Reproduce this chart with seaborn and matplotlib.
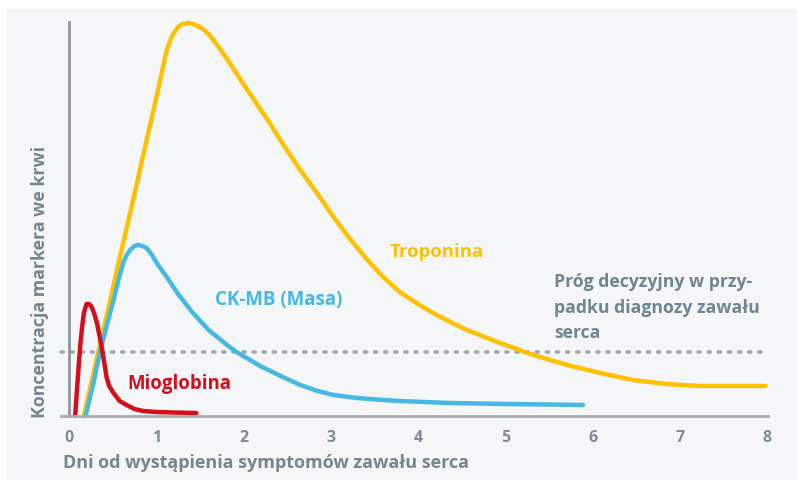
import matplotlib
matplotlib.use("Agg")
import matplotlib.pyplot as plt
import seaborn as sns
import pandas as pd
from matplotlib.patches import Rectangle

# Data (x: days, y: concentration in arbitrary units)
trop_x = [0.17, 0.33, 0.45, 0.56, 0.70, 0.83, 0.95, 1.02, 1.08, 1.12, 1.18, 1.25, 1.30, 1.36,
          1.42, 1.48, 1.55, 1.62, 1.73, 1.85, 1.96, 2.19, 2.27, 2.45, 2.65, 2.85, 3.03, 3.22,
          3.41, 3.60, 3.79, 3.98, 4.17, 4.37, 4.56, 4.94, 5.32, 5.71, 6.09, 6.46, 6.85, 7.23,
          7.61, 7.98]
trop_y = [0, 62, 107, 150, 203, 253, 299, 326, 350, 366, 380, 389, 392, 393,
          392, 390, 386, 380, 367, 352, 337, 307, 297, 272, 246, 222, 199, 177,
          157, 139, 124, 113, 103, 94, 86, 73, 61, 51, 43, 36, 32, 30,
          30, 30]

ck_x = [0.19, 0.28, 0.36, 0.44, 0.51, 0.57, 0.62, 0.66, 0.70, 0.75, 0.79, 0.84, 0.89, 0.95,
        1.02, 1.12, 1.25, 1.42, 1.60, 1.81, 1.92, 2.19, 2.45, 2.65, 2.85, 3.03, 3.30, 3.60,
        3.79, 4.37, 5.00, 5.50, 5.89]
ck_y = [0, 33, 66, 93, 116, 137, 153, 161, 166, 170, 171, 170, 168, 161,
        151, 139, 122, 103, 86, 71, 64, 50, 39, 31, 25, 21, 18, 16,
        15, 13, 12, 11.5, 11]

mio_x = [0.07, 0.09, 0.11, 0.13, 0.15, 0.17, 0.20, 0.23, 0.26, 0.29, 0.32, 0.35, 0.38, 0.41,
         0.43, 0.46, 0.51, 0.58, 0.66, 0.75, 0.85, 1.00, 1.20, 1.46]
mio_y = [0, 25, 49, 72, 89, 103, 112, 112, 109, 102, 93, 80, 66, 50,
         39, 30, 23, 15, 11, 7, 5, 4, 3.5, 3]

threshold = 64
x_ticks = [0, 1, 2, 3, 4, 5, 6, 7, 8]

labels = {
    "trop": "Troponina",
    "ck": "CK-MB (Masa)",
    "mio": "Mioglobina",
    "thr": "Próg decyzyjny w przy-\npadku diagnozy zawału\nserca",
    "xlabel": "Dni od wystąpienia symptomów zawału serca",
    "ylabel": "Koncentracja markera we krwi",
}

sns.set_theme(style="white")
plt.rcParams["font.family"] = ["Open Sans", "DejaVu Sans"]

C_TROP = "#ffc000"
C_CK = "#47b8e4"
C_MIO = "#d20f1b"
C_GREY = "#6f8591"
C_AXIS = "#8e979f"

W, H = 797, 480
fig = plt.figure(figsize=(W / 100, H / 100), dpi=100, facecolor="white")
fig.patches.append(Rectangle((6 / W, 0), 1 - 6 / W, 1 - 9 / H, transform=fig.transFigure,
                             facecolor="#f4f6f8", edgecolor="none", zorder=-10))

ax = fig.add_axes([61 / W, 64 / H, (768 - 61) / W, 394 / H])
ax.set_facecolor("none")

df_t = pd.DataFrame({"x": trop_x, "y": trop_y})
df_c = pd.DataFrame({"x": ck_x, "y": ck_y})
df_m = pd.DataFrame({"x": mio_x, "y": mio_y})

ax.plot([-0.092, 8.0], [threshold, threshold], linestyle=(0, (0.6, 2.2)), color="#a3a8ad",
        lw=2.6, dash_capstyle="round", zorder=1)
for df, c, z in [(df_t, C_TROP, 3), (df_c, C_CK, 4), (df_m, C_MIO, 5)]:
    sns.lineplot(data=df, x="x", y="y", ax=ax, color=c, lw=3.2, estimator=None, sort=False,
                 zorder=z)
for ln in ax.get_lines():
    ln.set_clip_on(False)
    ln.set_solid_joinstyle("round")

ax.set_xlim(-0.092, 8.01)
ax.set_ylim(0, 394)
ax.set_xticks(x_ticks)
ax.set_xticklabels([str(t) for t in x_ticks])
ax.set_yticks([])
for s in ["top", "right"]:
    ax.spines[s].set_visible(False)
ax.spines["left"].set_position(("data", 0))
ax.spines["left"].set_color(C_AXIS)
ax.spines["left"].set_linewidth(2)
ax.spines["bottom"].set_color("#a7adb3")
ax.spines["bottom"].set_linewidth(2)
ax.spines["bottom"].set_zorder(6)
ax.tick_params(axis="x", length=0, pad=10, labelsize=11.5, labelcolor="#7d8d97")
for t in ax.get_xticklabels():
    t.set_fontweight("bold")

ax.set_xlabel("")
ax.set_ylabel("")
fig.text(63 / W, 1 - 463 / H, labels["xlabel"], ha="left", va="center", fontsize=13,
         fontweight="bold", color="#75868f")
fig.text(40 / W, 1 - 282 / H, labels["ylabel"], ha="center", va="center", rotation=90,
         fontsize=12.8, fontweight="bold", color="#75868f")

ax.text(4.21, 164, labels["trop"], color=C_TROP, fontsize=13.3, fontweight="bold", ha="center", va="center")
ax.text(2.40, 116, labels["ck"], color=C_CK, fontsize=13.5, fontweight="bold", ha="center", va="center")
ax.text(1.26, 32, labels["mio"], color=C_MIO, fontsize=13.4, fontweight="bold", ha="center", va="center")
ax.text(5.56, 143, labels["thr"], color=C_GREY, fontsize=12.7, fontweight="bold", ha="left", va="top",
        linespacing=1.55)

fig.savefig("out.png", dpi=100, facecolor="white")
